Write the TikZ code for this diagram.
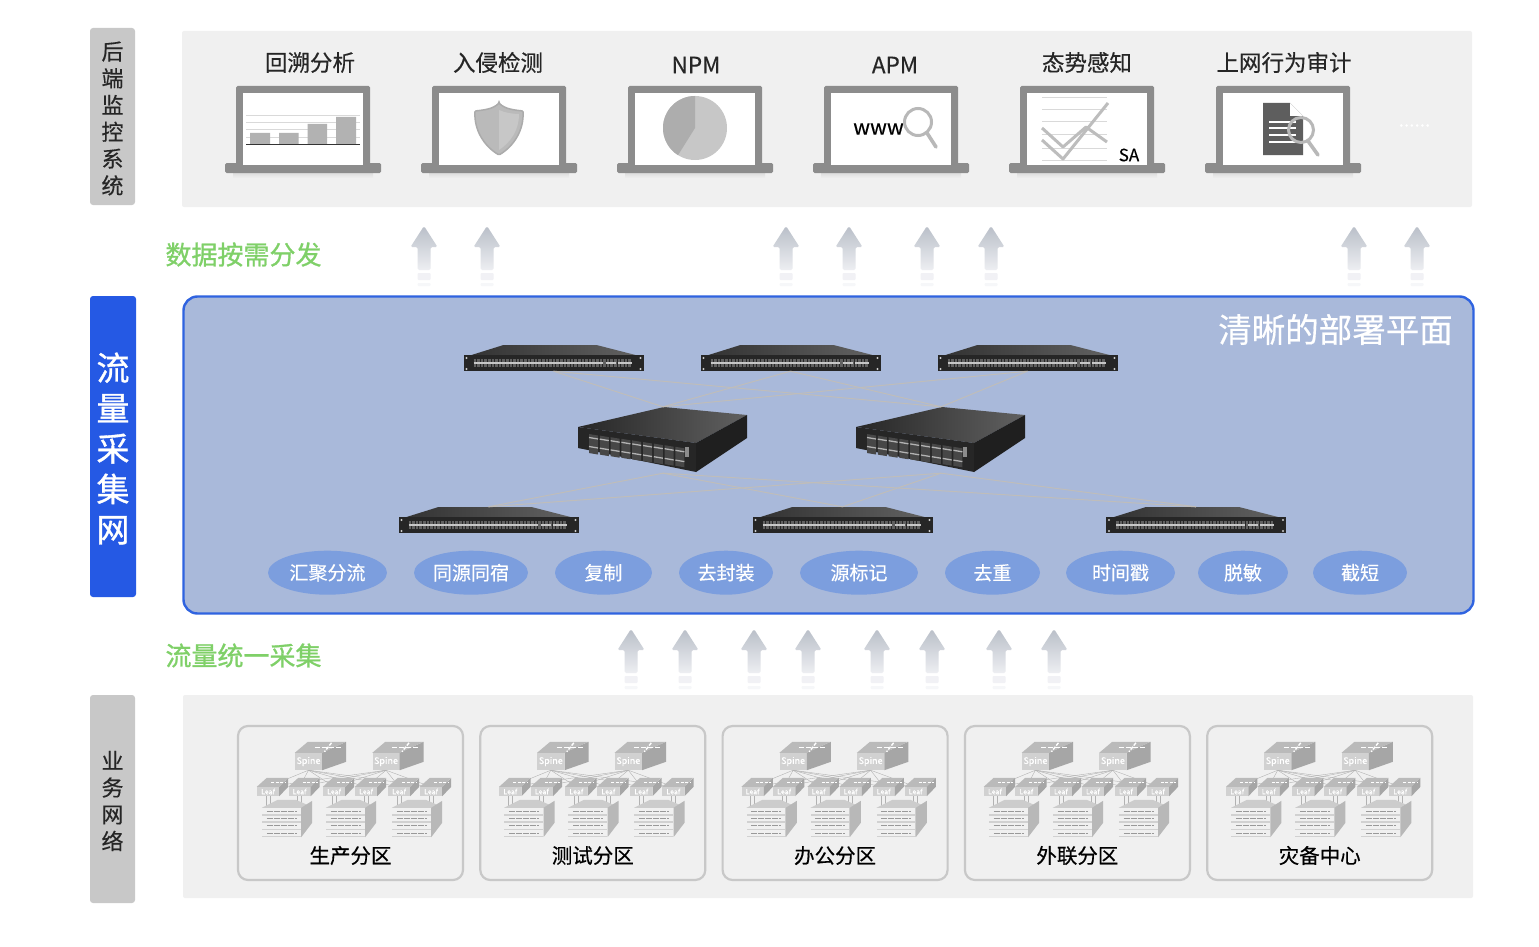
\documentclass[tikz,border=0pt]{standalone}
\usepackage{fontspec}
\setmainfont{Noto Sans CJK SC}[FakeBold=0.4]
\newfontfamily\strongcjk{Noto Sans CJK SC}[FakeBold=1]
\usetikzlibrary{shapes.geometric}
\definecolor{panelgray}{HTML}{F0F0F0}
\definecolor{sidegray}{HTML}{C8C8C8}
\definecolor{sideblue}{HTML}{2559E4}
\definecolor{planeblue}{HTML}{A9B9DA}
\definecolor{planeline}{HTML}{2F63E0}
\definecolor{pillblue}{HTML}{7C9EDE}
\definecolor{labelgreen}{HTML}{7FD068}
\definecolor{lapgray}{HTML}{8C8C8C}
\definecolor{meshgray}{HTML}{BFBDBA}
\definecolor{arrowtop}{HTML}{B9BFC8}
\definecolor{arrowbot}{HTML}{EDEEF2}
\tikzset{
  panelbox/.style={fill=panelgray, rounded corners=2pt, inner sep=0pt},
  sidebox/.style={fill=sidegray, rounded corners=3pt, inner sep=0pt},
  sidetext/.style={inner sep=0pt, align=center, text=black!85, font=\fontsize{22}{26.8}\selectfont},
  planebox/.style={fill=planeblue, draw=planeline, line width=2.4pt, rounded corners=14pt, inner sep=0pt},
  pillbox/.style={ellipse, fill=pillblue, inner sep=0pt, text=white, minimum height=44pt,
    font=\fontsize{19}{19}\selectfont},
  greenlabel/.style={text=labelgreen, inner sep=0pt, font=\strongcjk\fontsize{26}{26}\selectfont},
  toplabel/.style={inner sep=0pt, text=black!85, font=\fontsize{22.5}{23}\selectfont},
  screenbox/.style={fill=white, inner sep=0pt, minimum width=120.5pt, minimum height=72pt},
  swbox/.style={inner sep=0pt, minimum width=181pt, minimum height=26pt},
  bigbox/.style={inner sep=0pt, minimum width=170pt, minimum height=66pt},
  meshline/.style={draw=meshgray, line width=1pt},
  zonebox/.style={fill=panelgray, draw=sidegray, line width=2.2pt, rounded corners=10pt, inner sep=0pt,
    minimum width=225pt, minimum height=154pt},
  spinebox/.style={fill=black!18, inner sep=0pt, minimum width=27pt, minimum height=17pt, text=white,
    font=\fontsize{9}{9}\selectfont},
  leafbox/.style={fill=black!18, inner sep=0pt, minimum width=22pt, minimum height=9pt, text=white,
    font=\fontsize{7}{7}\selectfont},
  stackbox/.style={fill=black!18, inner sep=0pt, minimum width=39pt, minimum height=29pt},
  zoneline/.style={draw=black!30, line width=0.4pt},
  lens/.style={draw=black!28, line width=3pt, line cap=round},
}
% ordinateur portable sans contenu
\newcommand{\laptop}[2]{
  \shade[top color=black!13, bottom color=panelgray] (#2-70,173) rectangle (#2+70,178);
  \fill[lapgray, rounded corners=1.5pt] (#2-67,86) rectangle (#2+67,168);
  \fill[lapgray, rounded corners=1.5pt] (#2-78,163) rectangle (#2+78,173);
  \node[screenbox] (#1) at (#2,129) {};
}
% commutateur plat
\newcommand{\thinswitch}[3]{
  \node[swbox] (#1) at (#2,#3) {};
  \begin{scope}[shift={(#2,#3)}]
    \shade[left color=black!80, right color=black!62] (-82,-3) -- (-50,-13) -- (43,-13) -- (82,-3) -- cycle;
    \fill[black!85] (-90,-3) rectangle (90,13);
    \fill[white!80!black] (-87,0) circle (1.2pt) (87,0) circle (1.2pt) (-87,11) circle (1.2pt) (87,11) circle (1.2pt);
    \draw[black!62, line width=8pt, dash pattern=on 2.6pt off 1pt] (-80,5) -- (78,5);
    \draw[black!22, line width=1.6pt] (-80,5) -- (49,5) (52,5) -- (62,5) (64,5) -- (78,5);
  \end{scope}
}
% grand commutateur
\newcommand{\bigswitch}[3]{
  \node[bigbox] (#1) at (#2,#3) {};
  \begin{scope}[shift={(#2,#3)}]
    \shade[left color=black!85, right color=black!62] (-85,-13) -- (1,-33) -- (84,-25) -- (33,3) -- cycle;
    \fill[black!88] (33,3) -- (84,-25) -- (84,-2) -- (33,32) -- cycle;
    \fill[black!85] (-85,-13) -- (33,3) -- (33,32) -- (-85,8) -- cycle;
    \foreach \p in {0,...,8} {
      \fill[black!72] ({-74+\p*10.8},{-6+\p*1.6}) -- ++(9,1.5) -- ++(0,19) -- ++(-9,-1.5) -- cycle;
      \draw[black!30, line width=1.3pt] ({-74+\p*10.8},{-2.5+\p*1.6}) -- ++(9,1.5);
      \draw[black!30, line width=1.3pt] ({-74+\p*10.8},{6.5+\p*1.7}) -- ++(9,1.5);
    }
    \fill[black!45] (22,7) rectangle (26,17);
  \end{scope}
}
% fleche montante et son reflet
\newcommand{\flowarrow}[2]{
  \begin{scope}[shift={(#1,#2)}]
    \shade[top color=arrowtop, bottom color=arrowbot, rounded corners=1.5pt]
      (0,0) -- (13.5,21) -- (6.5,21) -- (6.5,44) -- (-6.5,44) -- (-6.5,21) -- (-13.5,21) -- cycle;
    \fill[arrowbot!80!white, rounded corners=1pt] (-6.5,47) rectangle (6.5,54);
    \fill[arrowbot!50!white, rounded corners=1pt] (-6.5,57) rectangle (6.5,60);
  \end{scope}
}
\begin{document}
\begin{tikzpicture}[x=1pt,y=-1pt]
  \useasboundingbox (0,0) rectangle (1539,947);
  \fill[white] (0,0) rectangle (1539,947);

  % bandeaux de gauche et panneaux
  \node[sidebox, minimum width=45pt, minimum height=177pt] (backend) at (112.5,116.5) {};
  \node[sidetext] (backendtxt) at (112.5,118.5) {后\\端\\监\\控\\系\\统};
  \node[panelbox, minimum width=1290pt, minimum height=176pt] (monitor) at (827,119) {};
  \node[sidebox, fill=sideblue, minimum width=46pt, minimum height=301pt] (capture) at (113,446.5) {};
  \node[sidetext, text=white, font=\strongcjk\fontsize{33}{40.4}\selectfont] (capturetxt) at (113,448.5) {流\\量\\采\\集\\网};
  \node[planebox, minimum width=1290pt, minimum height=317pt] (plane) at (828.5,455) {};
  \node[sidebox, minimum width=45pt, minimum height=208pt] (business) at (112.5,799) {};
  \node[sidetext] (businesstxt) at (112.5,801) {业\\务\\网\\络};
  \node[panelbox, minimum width=1290pt, minimum height=203pt] (zones) at (828,796.5) {};

  % les six ecrans
  \foreach \i/\cx in {1/303,2/499,3/695,4/891,5/1087,6/1283} {
    \laptop{lap\i}{\cx}
  }
  \node[toplabel] (title1) at (310,62.5) {回溯分析};
  \node[toplabel] (title2) at (498,62.5) {入侵检测};
  \node[toplabel] (title3) at (696,65) {NPM};
  \node[toplabel] (title4) at (895,65) {APM};
  \node[toplabel] (title5) at (1087,62.5) {态势感知};
  \node[toplabel] (title6) at (1284,62.5) {上网行为审计};
  \node[text=white, inner sep=0pt, font=\fontsize{19}{19}\selectfont] (more) at (1414.5,125.5) {......};

  % ecran 1
  \draw[black!15, line width=0.8pt] (246,115) -- (360,115) (246,122) -- (360,122) (246,129) -- (360,129) (246,137) -- (360,137);
  \fill[black!30] (250,133) rectangle (270,144) (279,133) rectangle (298.5,144)
    (307.5,124) rectangle (327,144) (336,117) rectangle (356,144);
  \draw[black!80, line width=1pt] (246,144.5) -- (360,144.5);
  % ecran 2
  \draw[fill=black!27, draw=black!33, line width=1.5pt, rounded corners=1pt]
    (499,103) .. controls (505,109) and (514,110) .. (523,111)
    .. controls (524,130) and (514,146) .. (499,155)
    .. controls (484,146) and (474,130) .. (475,111)
    .. controls (484,110) and (493,109) .. (499,103) -- cycle;
  \fill[black!22] (499,110) .. controls (505,113) and (514,114) .. (519,114)
    .. controls (519,130) and (511,142) .. (499,150) -- cycle;
  % ecran 3
  \fill[black!22] (695,128) circle (32pt);
  \fill[black!32] (695,128) -- (695,96) arc (90:238:32pt) -- cycle;
  % ecran 4
  \node[inner sep=0pt, font=\fontsize{21}{21}\selectfont] (www) at (878.5,129) {www};
  \draw[lens] (918,122) circle (13.5pt);
  \draw[lens, line width=3.6pt] (927,133) -- (936,147);
  % ecran 5
  \draw[black!15, line width=0.9pt] (1042,97) -- (1107,97) (1042,109) -- (1107,109) (1042,121) -- (1107,121)
    (1042,134) -- (1107,134) (1042,148) -- (1107,148) (1042,160) -- (1107,160);
  \draw[black!26, line width=3pt, line join=round] (1042,128) -- (1063,147) -- (1086,127) -- (1107,142);
  \draw[black!26, line width=3pt, line join=round] (1042,140) -- (1063,159) -- (1108,103);
  \node[inner sep=0pt, font=\fontsize{17}{17}\selectfont] (sa) at (1129,155) {SA};
  % ecran 6
  \fill[black!63] (1263,103) -- (1290,103) -- (1303,116) -- (1303,155) -- (1263,155) -- cycle;
  \fill[white] (1290,103) -- (1303,116) -- (1290,116) -- cycle;
  \draw[white, line width=1.8pt] (1269,122) -- (1296,122) (1269,128) -- (1296,128) (1269,135) -- (1296,135) (1269,142) -- (1296,142);
  \draw[lens] (1301,130) circle (12.5pt);
  \draw[lens, line width=3.6pt] (1308,141) -- (1318,155);

  % fleches et legendes vertes
  \foreach \ax in {424,487,786,849,927,991,1354,1417} {
    \flowarrow{\ax}{226}
  }
  \foreach \ax in {631,685,754,808,877,932,999,1054} {
    \flowarrow{\ax}{629}
  }
  \node[greenlabel] (dispatch) at (243.5,254.5) {数据按需分发};
  \node[greenlabel] (collect) at (243.5,655.5) {流量统一采集};

  % plan de deploiement
  \node[inner sep=0pt, text=white, font=\fontsize{33.5}{34}\selectfont] (planetitle) at (1335.5,329.5) {清晰的部署平面};
  \thinswitch{t1}{553.5}{358}
  \thinswitch{t2}{790.5}{358}
  \thinswitch{t3}{1027.5}{358}
  \bigswitch{c1}{663}{440}
  \bigswitch{c2}{941}{440}
  \thinswitch{b1}{488.5}{520}
  \thinswitch{b2}{842.5}{520}
  \thinswitch{b3}{1196}{520}
  \foreach \t in {t1,t2,t3} {
    \draw[meshline] (\t.south) -- (c1.north);
    \draw[meshline] (\t.south) -- (c2.north);
  }
  \foreach \b in {b1,b2,b3} {
    \draw[meshline] (c1.south) -- (\b.north);
    \draw[meshline] (c2.south) -- (\b.north);
  }

  % fonctions de traitement
  \node[pillbox, minimum width=119pt] (p1) at (327.5,572.7) {汇聚分流};
  \node[pillbox, minimum width=114pt] (p2) at (471,572.7) {同源同宿};
  \node[pillbox, minimum width=97pt] (p3) at (603.5,572.7) {复制};
  \node[pillbox, minimum width=94pt] (p4) at (726,572.7) {去封装};
  \node[pillbox, minimum width=118pt] (p5) at (859,572.7) {源标记};
  \node[pillbox, minimum width=95pt] (p6) at (992.5,572.7) {去重};
  \node[pillbox, minimum width=109pt] (p7) at (1120.5,572.7) {时间戳};
  \node[pillbox, minimum width=90pt] (p8) at (1243,572.7) {脱敏};
  \node[pillbox, minimum width=94pt] (p9) at (1360,572.7) {截短};

  % les cinq zones
  \foreach \i/\zx/\ztxt in {1/0/生产分区,2/242.3/测试分区,3/484.6/办公分区,4/726.9/外联分区,5/969.2/灾备中心} {
    \begin{scope}[xshift=\zx pt]
      \node[zonebox] (zone\i) at (350.5,803) {};
      \node[inner sep=0pt, font=\fontsize{20.5}{20}\selectfont] (zonetxt\i) at (350.5,855.5) {\ztxt};
      % feuilles et spines
      \foreach \l/\lx in {1/268,2/299.5,3/334,4/366,5/399,6/431} {
        \node[leafbox] (l\i\l) at (\lx,791.5) {Leaf};
      }
      \foreach \s/\sx in {1/308.5,2/386} {
        \node[spinebox] (s\i\s) at (\sx,761.5) {Spine};
      }
      \foreach \s in {1,2} {
        \foreach \l in {1,...,6} {
          \draw[zoneline] (s\i\s.south) -- (l\i\l.north);
        }
      }
      % faces des spines
      \foreach \s in {1,2} {
        \fill[black!27] (s\i\s.north west) -- ++(13,-11) -- ++(38,0) -- (s\i\s.north east) -- cycle;
        \fill[black!35] (s\i\s.north east) -- ++(24,-11) -- ++(0,20) -- (s\i\s.south east) -- cycle;
        \draw[white, line width=1.4pt, dash pattern=on 5pt off 2pt] ([shift={(6,-5.5)}]s\i\s.north) -- ++(26,0);
        \draw[white, line width=1.4pt, dash pattern=on 3.5pt off 1.5pt] ([shift={(23,-10)}]s\i\s.north) -- ++(-7,9);
      }
      % faces des feuilles
      \foreach \l in {1,...,6} {
        \fill[black!27] (l\i\l.north west) -- ++(10,-9) -- ++(21,0) -- (l\i\l.north east) -- cycle;
        \fill[black!35] (l\i\l.north east) -- ++(9,-9) -- ++(0,9) -- (l\i\l.south east) -- cycle;
        \draw[white, line width=1pt, dash pattern=on 3pt off 1.5pt] ([shift={(3,-4.5)}]l\i\l.north) -- ++(15,0);
      }
      % baies de serveurs
      \foreach \k/\kx/\la/\lb in {1/281.5/1/2,2/345.5/3/4,3/411.5/5/6} {
        \node[stackbox] (st\i\k) at (\kx,822.5) {};
        \foreach \l in {\la,\lb} {
          \draw[zoneline, line width=0.8pt] ([xshift=-2pt]l\i\l.south) -- ([xshift=-2pt]l\i\l.south |- st\i\k.north);
          \draw[zoneline, line width=0.8pt] ([xshift=2pt]l\i\l.south) -- ([xshift=2pt]l\i\l.south |- st\i\k.north);
        }
        \fill[black!20] (st\i\k.north west) -- ++(16,-8) -- ++(18,0) -- ++(16,7) -- (st\i\k.north east) -- cycle;
        \fill[black!28] (st\i\k.north east) -- ++(11,-7) -- ++(0,22) -- (st\i\k.south east) -- cycle;
        \foreach \r in {0,1,2,3} {
          \fill[black!6] ([shift={(0,\r*7.3+0.5)}]st\i\k.north west) rectangle ++(39,5.8);
          \draw[black!40, line width=1.2pt, dash pattern=on 6pt off 1pt] ([shift={(5,\r*7.3+3.4)}]st\i\k.north west) -- ++(30,0);
        }
      }
    \end{scope}
  }
\end{tikzpicture}
\end{document}
